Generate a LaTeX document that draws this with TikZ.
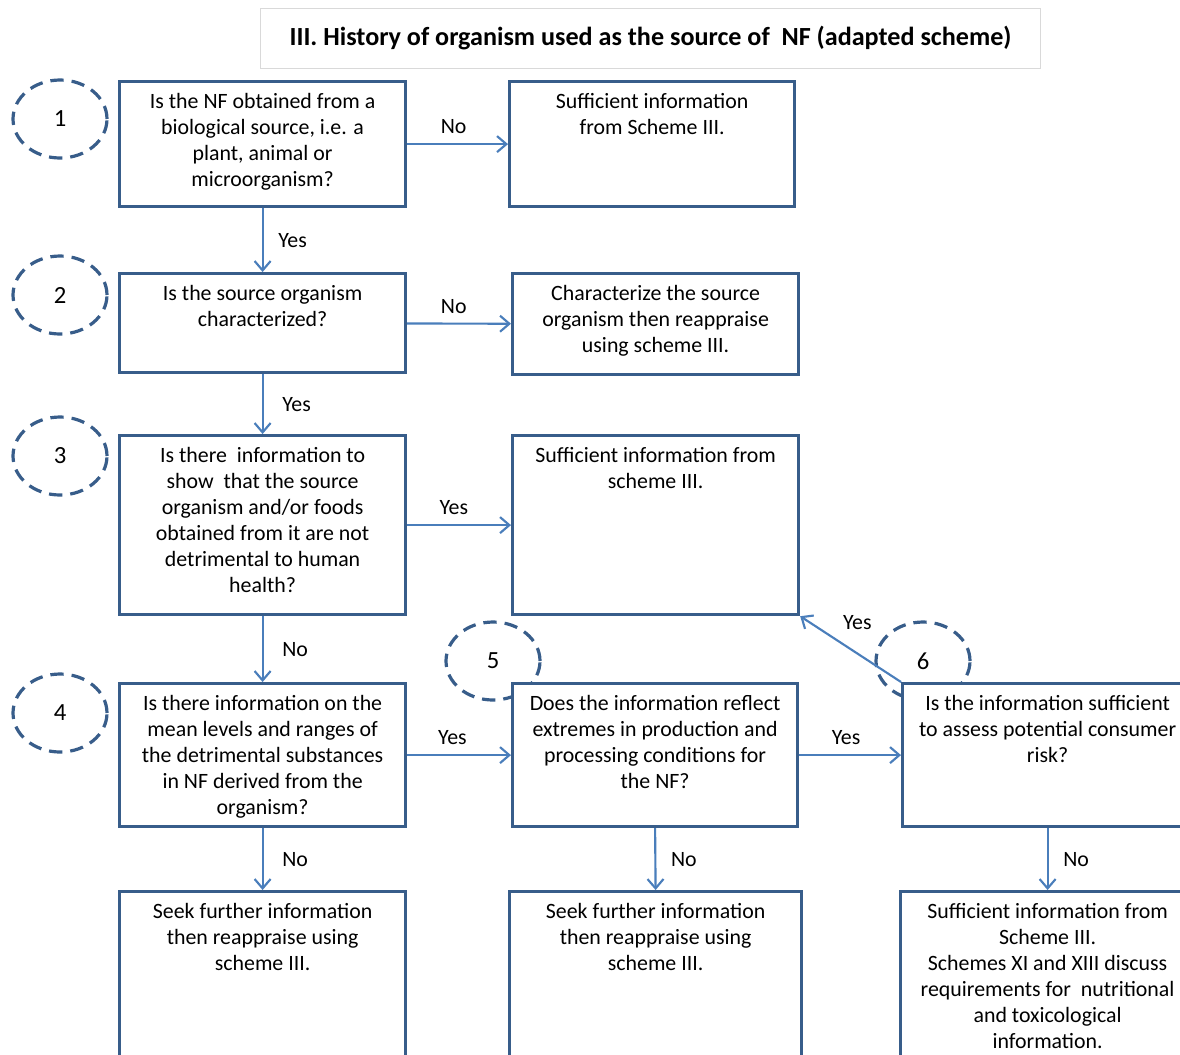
\documentclass[tikz,border=0pt]{standalone}
\usepackage{fontspec}
\setmainfont{Carlito}
\usetikzlibrary{arrows.meta,shapes.geometric}

\definecolor{boxblue}{HTML}{385D8A}
\definecolor{arrowblue}{HTML}{4A7EBB}
\newlength\pxu
\setlength\pxu{0.75pt}
% box text: width, height (in px), lines
\newcommand{\boxtxt}[3]{\parbox[c][#2\pxu][t]{#1\pxu}{\centering\rule{0pt}{20pt}#3}}

\begin{document}
\begin{tikzpicture}[x=0.75pt,y=-0.75pt,>={Straight Barb[length=7pt,width=12pt]},
  qbox/.style={draw=boxblue,line width=2.4pt,fill=white,inner sep=0pt,anchor=north west,font=\fontsize{16.4}{19.5}\selectfont},
  num/.style={ellipse,draw=boxblue,line width=2.4pt,dash pattern=on 10pt off 6pt,minimum width=70.5pt,minimum height=58.5pt,inner sep=0pt,font=\fontsize{18.5}{20}\selectfont},
  flow/.style={->,draw=arrowblue,line width=1.6pt},
  lbl/.style={font=\fontsize{16.4}{19.5}\selectfont,inner sep=2pt}]
\useasboundingbox (0,0) rectangle (1180,1054);
\clip (0,0) rectangle (1180,1054);

% title
\node[draw=black!15,line width=0.75pt,anchor=north west,minimum width=585pt,minimum height=45pt,font=\fontsize{19.6}{22}\selectfont\bfseries] (title) at (260,8) {\raisebox{-3pt}{III. History of organism used as the source of\ \ NF (adapted scheme)}};

% step numbers
\node[num] (c1) at (60,119) {1};
\node[num] (c2) at (60,295) {2};
\node[num] (c3) at (60,456) {3};
\node[num] (c4) at (60,713) {4};
\node[num] (c5) at (493,661) {5};
\node[num] (c6) at (923,661) {6};

% questions and outcomes
\node[qbox] (q1) at (118,80) {\boxtxt{286}{125}{Is the NF obtained from a\\ biological source, i.e. a\\ plant, animal or\\ microorganism?}};
\node[qbox] (s1) at (508,80) {\boxtxt{285}{125}{Sufficient information\\ from Scheme III.}};
\node[qbox] (q2) at (118,272) {\boxtxt{286}{99}{Is the source organism\\ characterized?}};
\node[qbox] (s2) at (511,272) {\boxtxt{286}{101}{Characterize the source\\ organism then reappraise\\ using scheme III.}};
\node[qbox] (q3) at (118,434) {\boxtxt{286}{179}{Is there\ \ information to\\ show\ \ that the source\\ organism and/or foods\\ obtained from it are not\\ detrimental to human\\ health?}};
\node[qbox] (s3) at (511,434) {\boxtxt{286}{179}{Sufficient information from\\ scheme III.}};
\node[qbox] (q4) at (118,682) {\boxtxt{286}{143}{Is there information on the\\ mean levels and ranges of\\ the detrimental substances\\ in NF derived from the\\ organism?}};
\node[qbox] (q5) at (511,682) {\boxtxt{285}{143}{Does the information reflect\\ extremes in production and\\ processing conditions for\\ the NF?}};
\node[qbox] (q6) at (901,682) {\boxtxt{290}{143}{Is the information sufficient\\ to assess potential consumer\\ risk?}};
\node[qbox] (r1) at (118,890) {\boxtxt{286}{200}{Seek further information\\ then reappraise using\\ scheme III.}};
\node[qbox] (r2) at (508,890) {\boxtxt{292}{200}{Seek further information\\ then reappraise using\\ scheme III.}};
\node[qbox] (r3) at (899,890) {\boxtxt{294}{200}{Sufficient information from\\ Scheme III.\\ Schemes XI and XIII discuss\\ requirements for\ \ nutritional\\ and toxicological\\ information.}};

% connectors
\draw[flow] (q1) -- node[lbl,above=5pt,xshift=-3pt] {No} (s1);
\draw[flow] (q1) -- node[lbl,right=9pt] {Yes} (q2);
\draw[flow] (q2) -- node[lbl,above=5pt,xshift=-4pt] {No} (s2);
\draw[flow] (q2) -- node[lbl,right=12pt] {Yes} (q3);
\draw[flow] (q3) -- node[lbl,above=5pt,xshift=-4pt] {Yes} (s3);
\draw[flow] (q3) -- node[lbl,right=12pt] {No} (q4);
\draw[flow] (q4) -- node[lbl,above=5pt,xshift=-5pt] {Yes} (q5);
\draw[flow] (q5) -- node[lbl,above=5pt,xshift=-3pt] {Yes} (q6);
\draw[flow] (q6.north west) -- node[lbl,above=12pt,xshift=5pt] {Yes} (s3.south east);
\draw[flow] (q4) -- node[lbl,right=12pt] {No} (r1);
\draw[flow] (q5.south) -- node[lbl,right=9pt] {No} (r2.north);
\draw[flow] (q6.south) -- node[lbl,right=9pt] {No} (r3.north);
\end{tikzpicture}
\end{document}
